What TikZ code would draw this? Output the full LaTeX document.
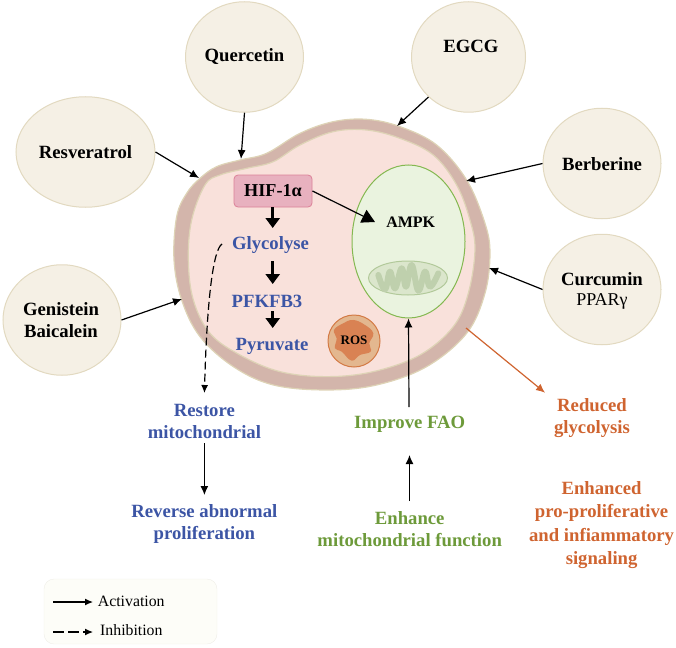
\documentclass[tikz,border=0pt]{standalone}
\usepackage{fontspec}
\setmainfont{Liberation Serif}
\usetikzlibrary{arrows.meta,shapes.geometric}
\definecolor{wallc}{HTML}{D3B5AB}
\definecolor{wallb}{HTML}{DED3B6}
\definecolor{cytoc}{HTML}{F9E1DB}
\definecolor{herbc}{HTML}{F5F0E5}
\definecolor{herbb}{HTML}{E2D9C0}
\definecolor{hifc}{HTML}{E8B1BF}
\definecolor{hifb}{HTML}{DC8198}
\definecolor{nucc}{HTML}{EAF3DF}
\definecolor{nucb}{HTML}{84B850}
\definecolor{mitoc}{HTML}{DBE6CC}
\definecolor{mitob}{HTML}{B2C99A}
\definecolor{cristc}{HTML}{BFD0AD}
\definecolor{rosc}{HTML}{E3B78F}
\definecolor{rosb}{HTML}{D37A45}
\definecolor{rosi}{HTML}{D98253}
\definecolor{txtblue}{HTML}{3C55A5}
\definecolor{txtgreen}{HTML}{6D9A3A}
\definecolor{txtorange}{HTML}{CF6430}
\definecolor{legc}{HTML}{FDFDF8}
\definecolor{legb}{HTML}{EFEEE8}
\tikzset{
  herb/.style={ellipse,draw=herbb,fill=herbc,line width=1pt,inner sep=0pt,minimum width=118pt,minimum height=110.5pt},
  herbtxt/.style={align=center,inner sep=0pt,font=\fontsize{18.7}{22}\selectfont\bfseries},
  act/.style={-{Latex[length=9pt,width=8pt]},line width=1.2pt,black},
  bigact/.style={-{Triangle[length=10pt,width=14pt]},line width=3pt,black},
  lbl/.style={align=center,inner sep=0pt,font=\fontsize{18.7}{22.6}\selectfont\bfseries},
  leglab/.style={anchor=west,inner sep=0pt,font=\fontsize{15.8}{18}\selectfont},
}
\begin{document}
\begin{tikzpicture}[x=1pt,y=-1pt]
\useasboundingbox (0,0) rectangle (676,647);

% cell wall and cytoplasm
\begin{scope}[shift={(160,110)},x=0.3333pt,y=-0.3333pt]
\draw[draw=wallb,fill=wallc,line width=1.2pt] plot[smooth cycle,tension=0.6] coordinates {
 (120,205)(170,170)(240,150)(320,130)(420,70)(520,35)(620,28)(720,50)(830,105)(920,210)(975,340)(990,430)(975,550)(920,670)(800,770)(650,825)(500,840)(340,825)(220,770)(120,680)(65,570)(42,450)(50,320)(80,250)};
\draw[draw=wallb,fill=cytoc,line width=1.2pt] plot[smooth cycle,tension=0.6] coordinates {
 (135,225)(180,195)(260,175)(340,155)(420,105)(520,65)(620,60)(720,85)(820,135)(890,225)(930,330)(945,420)(925,550)(880,650)(780,735)(640,785)(500,800)(360,785)(240,735)(150,670)(100,570)(85,450)(95,330)};
\end{scope}

% points on the wall reached by the arrows
\coordinate (wQ) at (241,159);
\coordinate (wR) at (199,178);
\coordinate (wE) at (397,126);
\coordinate (wB) at (466,181);
\coordinate (wC) at (489,268);
\coordinate (wG) at (182,299);
\coordinate (wO) at (466,328);
\coordinate (oE) at (545,392.7);

% surrounding compounds
\node[herb] (quer) at (244.5,57) {};
\node[herb,minimum width=114pt] (egcg) at (468.5,57) {};
\node[herb,minimum width=139pt] (resv) at (85.5,152) {};
\node[herb] (berb) at (602,163.5) {};
\node[herb] (curc) at (602,289.5) {};
\node[herb] (geni) at (62,320) {};
\node[herbtxt] (querT) at (244.5,57) {Quercetin};
\node[herbtxt] (egcgT) at (471,46) {EGCG};
\node[herbtxt] (resvT) at (85.5,152) {Resveratrol};
\node[herbtxt] (berbT) at (602,164) {Berberine};
\node[herbtxt] (curcT) at (602,279) {Curcumin};
\node[inner sep=0pt,font=\fontsize{18}{20}\selectfont] (curcP) at (602,301) {PPARγ};
\node[herbtxt] (geniT) at (61,320.5) {Genistein\\Baicalein};

\draw[act] (quer.south) -- (wQ);
\draw[act] (resv.east) -- (wR);
\draw[act] (egcg.225) -- (wE);
\draw[act] (berb.west) -- (wB);
\draw[act] (curc.west) -- (wC);
\draw[act] (geni.east) -- (wG);

% mitochondrial compartment
\node[ellipse,draw=nucb,fill=nucc,line width=1pt,minimum width=113pt,minimum height=153pt,inner sep=0pt] (nuc) at (408.5,241.5) {};
\node[font=\fontsize{16}{19}\selectfont\bfseries,inner sep=0pt] (ampk) at (410.7,222) {AMPK};
\node[ellipse,draw=mitob,fill=mitoc,line width=1pt,minimum width=79pt,minimum height=34pt,inner sep=0pt] (mito) at (408,278) {};
\begin{scope}[shift={(330,160)},x=0.3333pt,y=-0.3333pt]
\draw[cristc,line width=6pt,line cap=round,line join=round] plot[smooth,tension=0.7] coordinates {
 (145,345)(165,388)(180,335)(195,385)(215,325)(228,380)(245,315)(265,392)(285,335)(300,380)(325,340)};
\end{scope}

% ROS granule
\node[circle,draw=rosb,fill=rosc,line width=1pt,minimum size=52pt,inner sep=0pt] (rosg) at (354,341) {};
\begin{scope}[shift={(160,110)},x=0.3333pt,y=-0.3333pt]
\fill[rosi] plot[smooth cycle,tension=0.7] coordinates {
 (522,660)(550,640)(580,630)(615,645)(640,670)(628,700)(632,725)(600,735)(575,752)(545,725)(525,715)(530,685)};
\end{scope}
\node[font=\fontsize{13}{15}\selectfont\bfseries,inner sep=0pt] (rost) at (354,340) {ROS};

% glycolysis cascade
\node[draw=hifb,fill=hifc,rounded corners=4pt,line width=0.8pt,minimum width=78pt,minimum height=32pt,inner sep=0pt,font=\fontsize{18.2}{21}\selectfont\bfseries] (hif) at (273,191) {HIF-1α};
\node[lbl,text=txtblue] (gly) at (270.5,245) {Glycolyse};
\node[lbl,text=txtblue] (pfk) at (267,301) {PFKFB3};
\node[lbl,text=txtblue] (pyr) at (272,346) {Pyruvate};
\coordinate (h1) at (272.7,207);
\coordinate (h2) at (272.7,228);
\coordinate (g1) at (272.7,261);
\coordinate (g2) at (272.7,284);
\coordinate (p1) at (272.7,311);
\coordinate (p2) at (272.7,328);
\draw[bigact] (h1) -- (h2);
\draw[bigact] (g1) -- (g2);
\draw[bigact] (p1) -- (p2);
\coordinate (hE) at (375,222);
\draw[-{Triangle[length=13pt,width=14pt]},line width=1.2pt] (hif.east) -- (hE);

% outcomes below the cell
\node[lbl,text=txtblue] (rest) at (204.4,421.5) {Restore\\mitochondrial};
\node[lbl,text=txtblue] (rev) at (204.4,524) {Reverse abnormal\\proliferation};
\node[lbl,text=txtgreen] (fao) at (409.7,424) {Improve FAO};
\node[lbl,text=txtgreen] (enh) at (409.7,529) {Enhance\\mitochondrial function};
\node[lbl,text=txtorange] (red) at (592,418) {Reduced\\glycolysis};
\node[lbl,text=txtorange,font=\fontsize{18.7}{23.2}\selectfont\bfseries] (pro) at (601.6,525) {Enhanced\\pro-proliferative\\and infiammatory\\signaling};

\coordinate (dS) at (222,244);
\coordinate (dE) at (204.4,393);
\coordinate (r1) at (204.4,443);
\coordinate (r2) at (204.4,495);
\coordinate (f1) at (409,407);
\coordinate (e1) at (409.5,501);
\coordinate (e2) at (409.5,455);
\draw[-{Latex[length=8pt,width=7pt]},line width=1.2pt,dash pattern=on 8pt off 4pt] (dS) .. controls (213,250) and (207,300) .. (dE);
\draw[act] (r1) -- (r2);
\draw[act] (f1) -- (nuc.south);
\draw[act] (e1) -- (e2);
\draw[-{Latex[length=9pt,width=8pt]},line width=1.2pt,txtorange] (wO) -- (oE);

% legend
\node[draw=legb,fill=legc,rounded corners=10pt,minimum width=173pt,minimum height=65pt,inner sep=0pt] (leg) at (130.5,611.5) {};
\node[leglab] (lact) at (97.7,601) {Activation};
\node[leglab] (linh) at (100,630) {Inhibition};
\coordinate (la) at (53,602);
\coordinate (lb) at (93,602);
\coordinate (li) at (53,632);
\coordinate (lj) at (93,632);
\draw[-{Latex[length=8pt,width=7pt]},line width=1.1pt] (la) -- (lb);
\draw[-{Latex[length=8pt,width=7pt]},line width=1.1pt,dash pattern=on 10.5pt off 4.5pt] (li) -- (lj);
\end{tikzpicture}
\end{document}
